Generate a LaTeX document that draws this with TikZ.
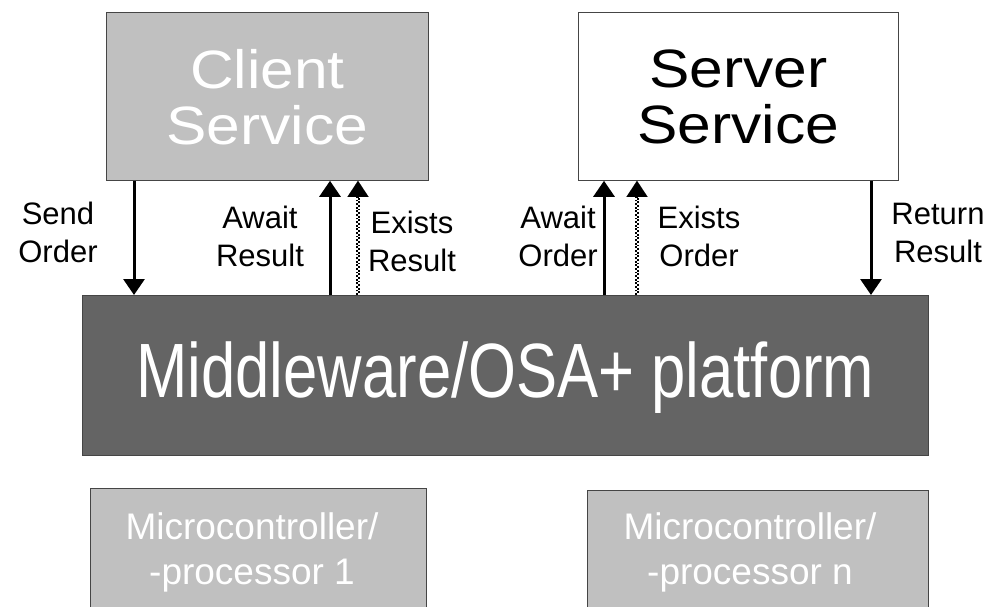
\documentclass[tikz,border=0pt]{standalone}
\usepackage{fontspec}
\setmainfont{Liberation Sans}
\newfontfamily\narrowfont[FakeStretch=0.8]{Liberation Sans}
\newfontfamily\widefont[FakeStretch=1.12]{Liberation Sans}
\usetikzlibrary{arrows.meta,calc}
\definecolor{lightbox}{HTML}{C0C0C0}
\definecolor{darkbox}{HTML}{646464}
\definecolor{edgegray}{HTML}{454545}
\begin{document}
\begin{tikzpicture}[x=1pt,y=-1pt,
  box/.style={draw=edgegray, line width=0.8pt, inner sep=0pt, anchor=north west},
  bigtxt/.style={font=\widefont\fontsize{54}{56}\selectfont, align=center},
  mctxt/.style={text=white, font=\fontsize{37}{45}\selectfont, align=center},
  lbl/.style={font=\fontsize{31}{38}\selectfont, align=center, inner sep=0pt},
  tip/.style={-{Triangle[width=21pt,length=16pt]}},
  arr/.style={line width=3pt, tip},
  dotl/.style={line width=1.8pt, dash pattern=on 1.8pt off 1.8pt},
  dotr/.style={line width=1.8pt, dash pattern=on 1.8pt off 1.8pt, dash phase=1.8pt}]
\useasboundingbox (0,0) rectangle (989,606);
\node[box, fill=lightbox, minimum width=322pt, minimum height=168pt] (client) at (106,12) {};
\node[bigtxt, text=white] at ([yshift=-1pt]client.center) {Client\\Service};
\node[box, fill=white, minimum width=320pt, minimum height=168pt] (server) at (578,12) {};
\node[bigtxt, text=black] at ([yshift=-1pt]server.center) {Server\\Service};
\node[box, fill=darkbox, minimum width=846pt, minimum height=160pt] (mw) at (82,295) {};
\node[text=white, font=\narrowfont\fontsize{77}{80}\selectfont] at ([yshift=-2pt]mw.center) {Middleware/OSA+ platform};
\node[box, fill=lightbox, minimum width=336pt, minimum height=130pt] (mc1) at (90,488) {};
\node[mctxt] at (252,552) {Microcontroller/\\-processor 1};
\node[box, fill=lightbox, minimum width=341pt, minimum height=130pt] (mcn) at (587,490) {};
\node[mctxt] at (750,552) {Microcontroller/\\-processor n};
\coordinate (xs) at (134,0);
\coordinate (xar) at (330,0);
\coordinate (xer) at (358,0);
\coordinate (xao) at (604,0);
\coordinate (xeo) at (637,0);
\coordinate (xrr) at (871,0);
% solid arrows
\draw[arr] (client.south -| xs) -- (mw.north -| xs);
\draw[arr] (mw.north -| xar) -- (client.south -| xar);
\draw[arr] (mw.north -| xao) -- (server.south -| xao);
\draw[arr] (server.south -| xrr) -- (mw.north -| xrr);
% dotted arrows (checkered shaft + solid tip)
\draw[dotl] ([xshift=-0.9pt]mw.north -| xer) -- ([xshift=-0.9pt,yshift=-12pt]client.south -| xer);
\draw[dotr] ([xshift=0.9pt]mw.north -| xer) -- ([xshift=0.9pt,yshift=-12pt]client.south -| xer);
\draw[line width=0.1pt, tip] ([yshift=-16pt]client.south -| xer) -- (client.south -| xer);
\draw[dotl] ([xshift=-0.9pt]mw.north -| xeo) -- ([xshift=-0.9pt,yshift=-12pt]server.south -| xeo);
\draw[dotr] ([xshift=0.9pt]mw.north -| xeo) -- ([xshift=0.9pt,yshift=-12pt]server.south -| xeo);
\draw[line width=0.1pt, tip] ([yshift=-16pt]server.south -| xeo) -- (server.south -| xeo);
\node[lbl] (l1) at (58,232) {Send\\Order};
\node[lbl] (l2) at (260,236) {Await\\Result};
\node[lbl] (l3) at (412,241) {Exists\\Result};
\node[lbl] (l4) at (558,236) {Await\\Order};
\node[lbl] (l5) at (699,236) {Exists\\Order};
\node[lbl] (l6) at (938,233) {Return\\Result};
\end{tikzpicture}
\end{document}
